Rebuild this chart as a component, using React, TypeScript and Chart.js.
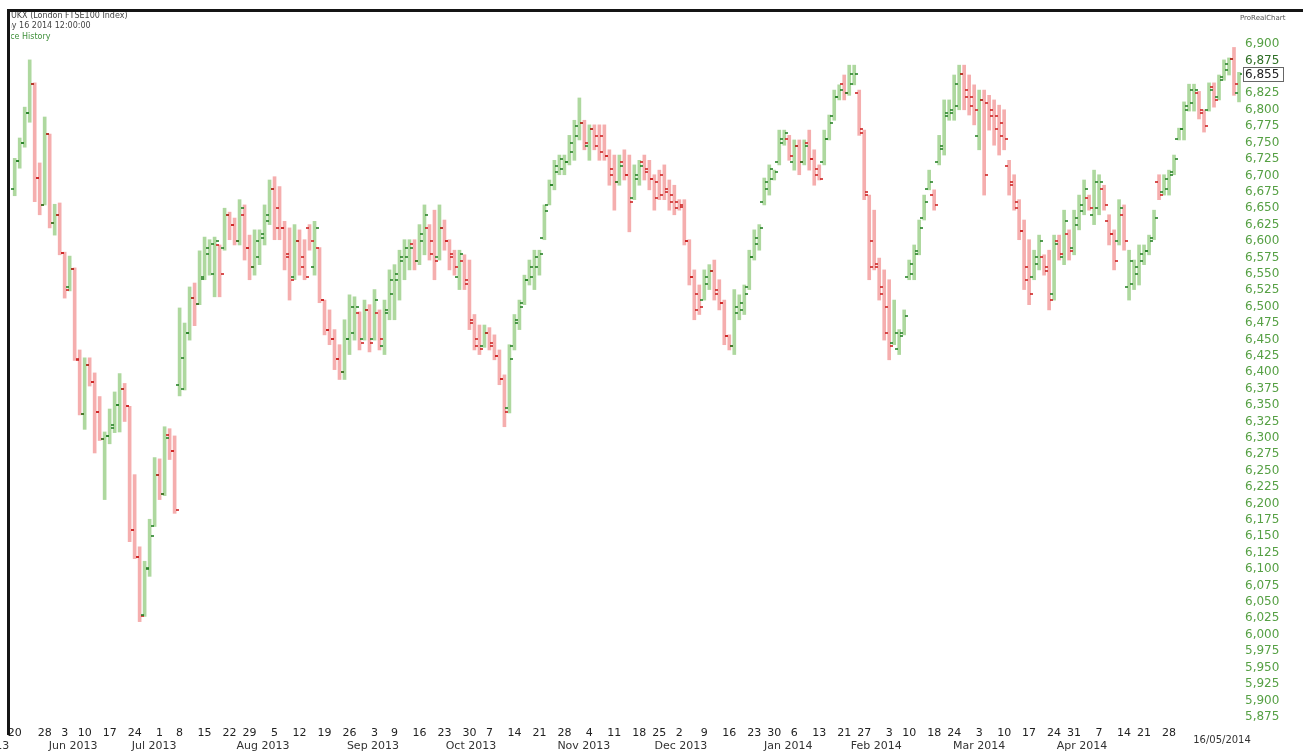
import React, { useEffect, useRef } from 'react';
import { Chart, registerables } from 'chart.js';

Chart.register(...registerables);

// Daily OHLC values (FTSE 100, May 2013 - May 2014)
const opens = [
  6680, 6722, 6750, 6795, 6840, 6696, 6655, 6763, 6628, 6640, 6582, 6530, 6558, 6420, 6337, 6411, 6385, 6340, 6299, 6303,
  6315, 6350, 6375, 6348, 6160, 6118, 6030, 6100, 6165, 6243, 6214, 6305, 6280, 6380, 6375, 6460, 6513, 6504, 6545, 6580,
  6550, 6594, 6590, 6640, 6625, 6600, 6640, 6590, 6560, 6575, 6605, 6630, 6680, 6650, 6620, 6580, 6545, 6600, 6575, 6620,
  6560, 6590, 6510, 6465, 6450, 6420, 6400, 6450, 6460, 6490, 6450, 6495, 6450, 6490, 6440, 6490, 6520, 6540, 6570, 6575,
  6595, 6570, 6600, 6620, 6600, 6575, 6620, 6600, 6580, 6545, 6570, 6540, 6480, 6450, 6440, 6460, 6445, 6425, 6390, 6345,
  6440, 6475, 6505, 6540, 6545, 6560, 6605, 6655, 6685, 6705, 6710, 6720, 6735, 6760, 6780, 6745, 6770, 6760, 6760, 6730,
  6710, 6690, 6720, 6700, 6665, 6695, 6720, 6710, 6695, 6690, 6700, 6680, 6670, 6660, 6655, 6600, 6545, 6520, 6510, 6535,
  6555, 6525, 6505, 6455, 6440, 6490, 6495, 6530, 6575, 6595, 6660, 6680, 6695, 6720, 6750, 6755, 6720, 6745, 6720, 6750,
  6725, 6710, 6720, 6755, 6790, 6820, 6840, 6825, 6840, 6825, 6765, 6670, 6600, 6560, 6530, 6500, 6445, 6435, 6460, 6545,
  6550, 6585, 6635, 6680, 6670, 6720, 6740, 6790, 6795, 6805, 6855, 6830, 6820, 6760, 6815, 6810, 6800, 6790, 6780, 6715,
  6690, 6650, 6615, 6560, 6545, 6565, 6575, 6560, 6520, 6600, 6575, 6610, 6590, 6625, 6645, 6665, 6640, 6650, 6680, 6630,
  6610, 6600, 6640, 6530, 6535, 6550, 6570, 6585, 6605, 6690, 6675, 6680, 6705, 6755, 6770, 6805, 6810, 6825, 6795, 6800,
  6835, 6820, 6850, 6860, 6878, 6825,
];
const highs = [
  6726, 6757, 6804, 6876, 6841, 6719, 6789, 6763, 6656, 6658, 6583, 6577, 6559, 6434, 6422, 6422, 6399, 6363, 6309, 6344,
  6370, 6398, 6383, 6348, 6244, 6134, 6112, 6176, 6270, 6268, 6317, 6314, 6303, 6498, 6475, 6530, 6536, 6585, 6606, 6602,
  6606, 6594, 6650, 6644, 6635, 6663, 6655, 6609, 6617, 6617, 6655, 6693, 6698, 6683, 6630, 6620, 6625, 6617, 6602, 6625,
  6630, 6590, 6510, 6495, 6465, 6442, 6480, 6518, 6515, 6492, 6510, 6503, 6526, 6495, 6510, 6556, 6564, 6586, 6602, 6602,
  6602, 6625, 6655, 6625, 6647, 6655, 6632, 6602, 6586, 6586, 6579, 6571, 6488, 6472, 6472, 6468, 6457, 6434, 6396, 6442,
  6488, 6510, 6548, 6571, 6586, 6586, 6655, 6693, 6723, 6731, 6731, 6761, 6784, 6818, 6784, 6777, 6777, 6777, 6777, 6739,
  6731, 6731, 6739, 6731, 6716, 6723, 6731, 6723, 6701, 6708, 6716, 6693, 6685, 6663, 6663, 6602, 6556, 6533, 6556, 6564,
  6571, 6541, 6510, 6457, 6526, 6518, 6533, 6586, 6617, 6625, 6696, 6716, 6708, 6769, 6769, 6761, 6754, 6754, 6754, 6769,
  6739, 6716, 6769, 6792, 6830, 6838, 6853, 6868, 6868, 6830, 6769, 6670, 6647, 6574, 6556, 6541, 6510, 6465, 6495, 6571,
  6594, 6632, 6670, 6708, 6678, 6761, 6815, 6815, 6853, 6868, 6868, 6853, 6838, 6830, 6830, 6822, 6815, 6807, 6800, 6723,
  6701, 6663, 6632, 6602, 6586, 6609, 6579, 6586, 6609, 6609, 6647, 6617, 6647, 6670, 6693, 6670, 6708, 6701, 6685, 6640,
  6617, 6663, 6655, 6586, 6571, 6594, 6594, 6609, 6647, 6701, 6701, 6708, 6731, 6772, 6812, 6839, 6839, 6828, 6800, 6841,
  6841, 6853, 6876, 6879, 6895, 6857,
];
const lows = [
  6669, 6711, 6743, 6781, 6660, 6640, 6655, 6620, 6609, 6579, 6513, 6524, 6418, 6335, 6313, 6379, 6277, 6296, 6206, 6291,
  6308, 6309, 6325, 6142, 6116, 6020, 6028, 6089, 6165, 6206, 6212, 6267, 6185, 6364, 6373, 6449, 6471, 6503, 6541, 6548,
  6515, 6515, 6586, 6602, 6594, 6594, 6571, 6541, 6548, 6564, 6594, 6625, 6602, 6602, 6556, 6510, 6541, 6548, 6541, 6586,
  6548, 6506, 6457, 6442, 6404, 6389, 6389, 6427, 6449, 6434, 6449, 6431, 6449, 6434, 6427, 6480, 6480, 6510, 6541, 6556,
  6556, 6564, 6579, 6571, 6541, 6571, 6586, 6556, 6548, 6526, 6526, 6465, 6434, 6427, 6438, 6434, 6419, 6381, 6317, 6338,
  6434, 6465, 6503, 6533, 6526, 6548, 6602, 6655, 6678, 6701, 6701, 6716, 6723, 6754, 6739, 6723, 6739, 6723, 6723, 6685,
  6647, 6685, 6693, 6614, 6663, 6685, 6693, 6678, 6647, 6663, 6663, 6647, 6640, 6647, 6594, 6533, 6480, 6488, 6510, 6526,
  6510, 6495, 6442, 6434, 6427, 6480, 6488, 6526, 6571, 6586, 6655, 6670, 6693, 6716, 6746, 6723, 6708, 6701, 6716, 6708,
  6685, 6693, 6716, 6754, 6784, 6815, 6815, 6822, 6838, 6761, 6663, 6541, 6556, 6510, 6449, 6419, 6442, 6427, 6457, 6541,
  6541, 6579, 6632, 6678, 6647, 6716, 6731, 6784, 6784, 6800, 6800, 6792, 6777, 6739, 6670, 6769, 6746, 6731, 6739, 6670,
  6647, 6602, 6526, 6503, 6541, 6556, 6548, 6495, 6510, 6571, 6564, 6571, 6579, 6617, 6640, 6647, 6625, 6640, 6647, 6594,
  6556, 6594, 6586, 6510, 6526, 6533, 6564, 6579, 6602, 6663, 6670, 6670, 6701, 6754, 6754, 6798, 6798, 6786, 6766, 6798,
  6804, 6815, 6845, 6853, 6822, 6812,
];
const closes = [
  6722, 6750, 6795, 6840, 6696, 6655, 6763, 6628, 6640, 6582, 6526, 6558, 6418, 6337, 6411, 6385, 6340, 6299, 6303, 6320,
  6350, 6375, 6348, 6160, 6118, 6028, 6102, 6150, 6243, 6214, 6300, 6280, 6190, 6422, 6460, 6513, 6504, 6542, 6590, 6595,
  6600, 6550, 6640, 6625, 6600, 6650, 6590, 6560, 6600, 6610, 6640, 6680, 6620, 6620, 6575, 6540, 6600, 6560, 6545, 6600,
  6620, 6510, 6465, 6450, 6420, 6400, 6450, 6500, 6500, 6445, 6495, 6445, 6510, 6450, 6495, 6540, 6550, 6575, 6590, 6590,
  6570, 6610, 6640, 6580, 6570, 6620, 6600, 6575, 6560, 6580, 6535, 6475, 6440, 6435, 6460, 6440, 6425, 6390, 6340, 6420,
  6480, 6500, 6540, 6560, 6575, 6580, 6645, 6685, 6715, 6725, 6720, 6750, 6775, 6780, 6750, 6770, 6745, 6735, 6730, 6700,
  6690, 6715, 6700, 6660, 6700, 6715, 6705, 6695, 6665, 6670, 6675, 6660, 6650, 6652, 6600, 6545, 6495, 6500, 6545, 6555,
  6520, 6505, 6455, 6440, 6500, 6505, 6520, 6575, 6605, 6620, 6690, 6710, 6705, 6755, 6765, 6730, 6745, 6720, 6745, 6725,
  6700, 6695, 6755, 6780, 6820, 6830, 6825, 6855, 6855, 6770, 6675, 6560, 6565, 6520, 6460, 6440, 6460, 6455, 6485, 6565,
  6580, 6620, 6660, 6690, 6655, 6745, 6795, 6800, 6840, 6855, 6820, 6805, 6800, 6815, 6700, 6790, 6770, 6760, 6755, 6685,
  6660, 6615, 6540, 6520, 6575, 6600, 6555, 6510, 6595, 6580, 6630, 6585, 6635, 6655, 6680, 6650, 6690, 6690, 6655, 6610,
  6570, 6650, 6600, 6570, 6560, 6580, 6585, 6600, 6635, 6670, 6695, 6700, 6725, 6770, 6800, 6830, 6830, 6800, 6775, 6830,
  6815, 6845, 6870, 6878, 6840, 6855,
];

// X axis: week-start labels (at trading-day index) and month labels
const weekTickIdx = [0, 6, 10, 14, 19, 24, 29, 33, 38, 43, 47, 52, 57, 62, 67, 72, 76, 81, 86, 91, 95, 100, 105, 110, 115,
  120, 125, 129, 133, 138, 143, 148, 152, 156, 161, 166, 170, 175, 179, 184, 188, 193, 198, 203, 208, 212, 217, 222, 226, 231];
const weekTickLabels = ['20', '28', '3', '10', '17', '24', '1', '8', '15', '22', '29', '5', '12', '19', '26', '3', '9', '16',
  '23', '30', '7', '14', '21', '28', '4', '11', '18', '25', '2', '9', '16', '23', '30', '6', '13', '21', '27', '3', '10', '18',
  '24', '3', '10', '17', '24', '31', '7', '14', '21', '28'];
const monthIdx = [-6.5, 11.7, 27.9, 49.7, 71.7, 91.3, 113.9, 133.3, 154.8, 172.4, 193, 213.6];
const monthLabels = ['May 2013', 'Jun 2013', 'Jul 2013', 'Aug 2013', 'Sep 2013', 'Oct 2013', 'Nov 2013', 'Dec 2013',
  'Jan 2014', 'Feb 2014', 'Mar 2014', 'Apr 2014'];
const lastDateLabel = '16/05/2014';
const lastDateIdx = 241.6;

// Y axis ticks
const yTickMin = 5875;
const yTickMax = 6900;
const yTickStep = 25;
const yTickHidden = [6850];
const markedLevel = 6875;
const lastPrice = 6855;

const headerLines = ['UKX (London FTSE100 Index)', 'May 16 2014 12:00:00', 'Price History'];
const brandLabel = 'ProRealChart';

const GREEN_BAR = 'rgba(120,190,95,0.6)';
const RED_BAR = 'rgba(236,100,100,0.52)';
const GREEN_TICK = 'rgba(40,130,40,0.8)';
const RED_TICK = 'rgba(205,35,35,0.8)';
const Y_LABEL = '#56a044';

const fmt = (v: number) => v.toLocaleString('en-US');

export default function App() {
  const ref = useRef<HTMLCanvasElement | null>(null);

  useEffect(() => {
    const canvas = ref.current;
    if (!canvas) return;

    const barData = highs.map((h, i) => ({ x: i, y: [lows[i], h] }));
    const barColors = closes.map((c, i) => (c >= opens[i] ? GREEN_BAR : RED_BAR));

    const yTicks: number[] = [];
    for (let v = yTickMax; v >= yTickMin; v -= yTickStep) {
      if (!yTickHidden.includes(v)) yTicks.push(v);
    }

    const ohlcTicks = {
      id: 'ohlcTicks',
      afterDatasetsDraw(chart: any) {
        const { ctx, scales, chartArea } = chart;
        const xs = scales.x;
        const ys = scales.y;
        ctx.save();
        ctx.beginPath();
        ctx.rect(chartArea.left, chartArea.top, chartArea.right - chartArea.left, chartArea.bottom - chartArea.top);
        ctx.clip();
        for (let i = 0; i < opens.length; i++) {
          const px = xs.getPixelForValue(i);
          const up = closes[i] >= opens[i];
          ctx.fillStyle = up ? GREEN_TICK : RED_TICK;
          const yo = Math.round(ys.getPixelForValue(opens[i]));
          const yc = Math.round(ys.getPixelForValue(closes[i]));
          ctx.fillRect(Math.round(px) - 4, yo - 1, 3, 2);
          ctx.fillRect(Math.round(px) + 1, yc - 1, 3, 2);
        }
        ctx.restore();
      },
    };

    const decorations = {
      id: 'decorations',
      afterDraw(chart: any) {
        const { ctx, scales, width } = chart;
        const xs = scales.x;
        const ys = scales.y;
        ctx.save();
        // frame
        ctx.fillStyle = '#151515';
        ctx.fillRect(7, 9, width - 7, 3);
        ctx.fillRect(7, 9, 3, 726);

        // header
        ctx.save();
        ctx.beginPath();
        ctx.rect(11, 12, 300, 35);
        ctx.clip();
        ctx.font = '8px "DejaVu Sans"';
        ctx.textBaseline = 'middle';
        ctx.textAlign = 'left';
        ctx.fillStyle = '#444';
        ctx.fillText(headerLines[0], 11, 16);
        ctx.fillText(headerLines[1], 0, 26);
        ctx.fillStyle = '#3f8f3a';
        ctx.fillText(headerLines[2], 0, 37);
        ctx.restore();

        ctx.font = '7px "DejaVu Sans"';
        ctx.fillStyle = '#555';
        ctx.textAlign = 'left';
        ctx.textBaseline = 'middle';
        ctx.fillText(brandLabel, 1240, 18);

        // month labels
        ctx.font = '11px "DejaVu Sans"';
        ctx.fillStyle = '#333';
        ctx.textAlign = 'center';
        ctx.textBaseline = 'middle';
        monthIdx.forEach((m, k) => {
          ctx.fillText(monthLabels[k], xs.getPixelForValue(m), 746);
        });
        ctx.font = '10px "DejaVu Sans"';
        ctx.fillText(lastDateLabel, xs.getPixelForValue(lastDateIdx), 740);

        // marked level underline
        const ym = Math.round(ys.getPixelForValue(markedLevel));
        ctx.fillStyle = '#2f6f25';
        ctx.fillRect(xs.right + 2, ym + 7, 36, 1);

        // last price box
        const yl = Math.round(ys.getPixelForValue(lastPrice));
        ctx.fillStyle = '#fff';
        ctx.fillRect(xs.right + 1, yl - 7, 40, 14);
        ctx.strokeStyle = '#666';
        ctx.lineWidth = 1;
        ctx.strokeRect(xs.right + 1.5, yl - 6.5, 40, 14);
        ctx.font = '12px "DejaVu Sans"';
        ctx.fillStyle = '#222';
        ctx.textAlign = 'left';
        ctx.fillText(fmt(lastPrice), xs.right + 3, yl + 1);
        ctx.restore();
      },
    };

    const chart = new Chart(canvas, {
      type: 'bar',
      data: {
        datasets: [
          {
            label: 'UKX',
            data: barData as any,
            backgroundColor: barColors,
            borderWidth: 0,
            barThickness: 3,
          },
        ],
      },
      options: {
        animation: false,
        responsive: false,
        maintainAspectRatio: false,
        layout: { padding: { left: 11, top: 12, right: 0, bottom: 0 } },
        plugins: { legend: { display: false }, tooltip: { enabled: false } },
        scales: {
          x: {
            type: 'linear',
            position: 'bottom',
            min: -0.74,
            max: 245.6,
            offset: false,
            grid: { display: false, drawTicks: false },
            border: { display: false },
            ticks: {
              autoSkip: false,
              maxRotation: 0,
              padding: 3,
              color: '#222',
              font: { family: 'DejaVu Sans', size: 11 },
              callback: (v: any) => {
                const k = weekTickIdx.indexOf(Number(v));
                return k >= 0 ? weekTickLabels[k] : '';
              },
            },
            afterBuildTicks: (s: any) => {
              s.ticks = weekTickIdx.map((v) => ({ value: v }));
            },
            afterFit: (s: any) => {
              s.height = 27;
            },
          },
          y: {
            type: 'linear',
            position: 'right',
            min: 5864,
            max: 6949,
            grid: { display: false, drawTicks: false },
            border: { display: false },
            ticks: {
              padding: 3,
              autoSkip: false,
              color: (c: any) => (c.tick && c.tick.value === markedLevel ? '#2f6f25' : Y_LABEL),
              font: { family: 'DejaVu Sans', size: 12 },
              callback: (v: any) => fmt(Number(v)),
            },
            afterBuildTicks: (s: any) => {
              s.ticks = yTicks.map((v) => ({ value: v }));
            },
            afterFit: (s: any) => {
              s.width = 61;
            },
          },
        },
      },
      plugins: [ohlcTicks, decorations],
    });

    return () => chart.destroy();
  }, []);

  return (
    <canvas
      ref={ref}
      width={1303}
      height={751}
      style={{ position: 'fixed', left: 0, top: 0, width: 1303, height: 751, background: '#fff' }}
    />
  );
}
